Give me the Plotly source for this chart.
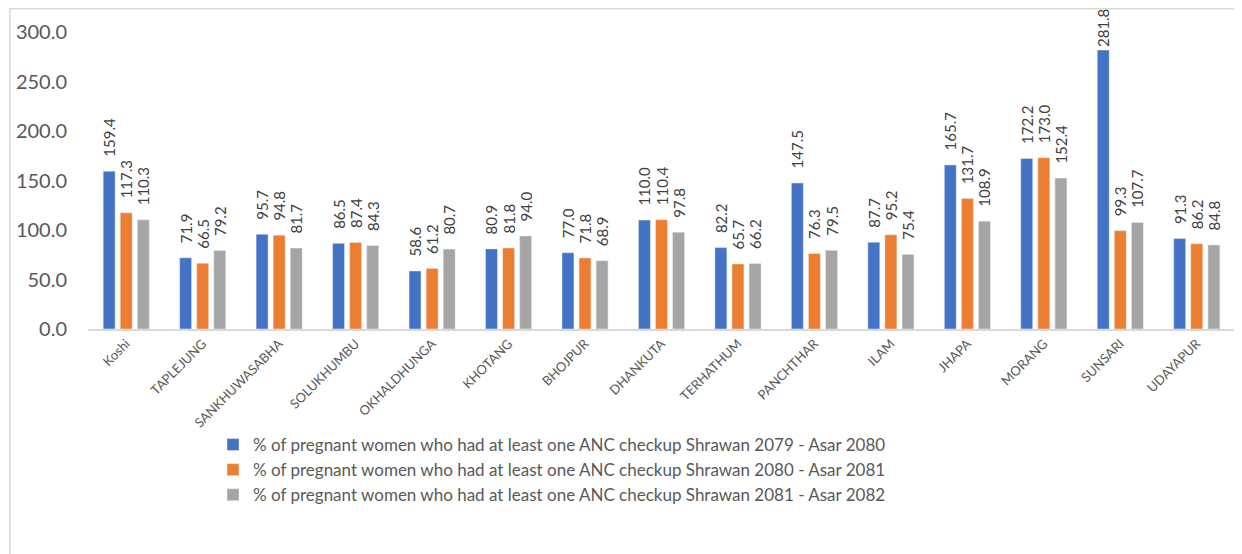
import plotly.graph_objects as go

districts = ['Koshi', 'TAPLEJUNG', 'SANKHUWASABHA', 'SOLUKHUMBU', 'OKHALDHUNGA', 'KHOTANG',
             'BHOJPUR', 'DHANKUTA', 'TERHATHUM', 'PANCHTHAR', 'ILAM', 'JHAPA', 'MORANG',
             'SUNSARI', 'UDAYAPUR']
anc_2079_80 = [159.4, 71.9, 95.7, 86.5, 58.6, 80.9, 77.0, 110.0, 82.2, 147.5, 87.7, 165.7, 172.2, 281.8, 91.3]
anc_2080_81 = [117.3, 66.5, 94.8, 87.4, 61.2, 81.8, 71.8, 110.4, 65.7, 76.3, 95.2, 131.7, 173.0, 99.3, 86.2]
anc_2081_82 = [110.3, 79.2, 81.7, 84.3, 80.7, 94.0, 68.9, 97.8, 66.2, 79.5, 75.4, 108.9, 152.4, 107.7, 84.8]

series_names = [
    '% of pregnant women who had at least one ANC checkup Shrawan 2079 - Asar 2080',
    '% of pregnant women who had at least one ANC checkup Shrawan 2080 - Asar 2081',
    '% of pregnant women who had at least one ANC checkup Shrawan 2081 - Asar 2082',
]
colors = ['#4472C4', '#ED7D31', '#A5A5A5']


def label(v):
    # leading spaces push the rotated label off the bar top, except near the top edge
    pad = '' if v > 250 else '\u00a0\u00a0\u00a0'
    return pad + f'{v:.1f}'


fig = go.Figure()
for name, vals, col in zip(series_names, [anc_2079_80, anc_2080_81, anc_2081_82], colors):
    fig.add_trace(go.Bar(
        x=districts, y=vals, name=name, marker_color=col,
        text=[label(v) for v in vals],
        textposition='outside', textangle=-90,
        textfont=dict(size=15, color='#404040'), cliponaxis=False,
    ))

# the page body adds an 8px margin, so the figure is a bit smaller than the window
fig.update_layout(
    width=1234, height=546,
    paper_bgcolor='white', plot_bgcolor='white',
    font=dict(family='Lato, Open Sans, sans-serif', color='#595959'),
    barmode='group', bargap=0.33, bargroupgap=0.3,
    margin=dict(l=80, r=7, t=24, b=225, autoexpand=False),
    showlegend=True,
    legend=dict(x=0.109, y=-0.33, xanchor='left', yanchor='top',
                font=dict(size=17, color='#595959'), tracegroupgap=0,
                itemwidth=30, bgcolor='rgba(0,0,0,0)'),
    uniformtext=dict(minsize=15, mode='show'),
)
fig.update_yaxes(range=[0, 300], dtick=50, tickformat='.1f', showgrid=False,
                 showline=False, zeroline=False, tickfont=dict(size=20, color='#595959'),
                 ticks='', ticklen=0, ticklabelstandoff=20, automargin=False)
fig.update_xaxes(tickangle=-45, tickfont=dict(size=13, color='#595959'), showline=True,
                 linecolor='#D9D9D9', linewidth=2, ticks='', automargin=False)

fig.add_shape(type='rect', xref='paper', yref='paper',
              x0=-0.068, x1=1.0035, y0=-0.76, y1=1.078,
              line=dict(color='#D9D9D9', width=1.5), fillcolor='rgba(0,0,0,0)')

fig.write_html('out.html')
